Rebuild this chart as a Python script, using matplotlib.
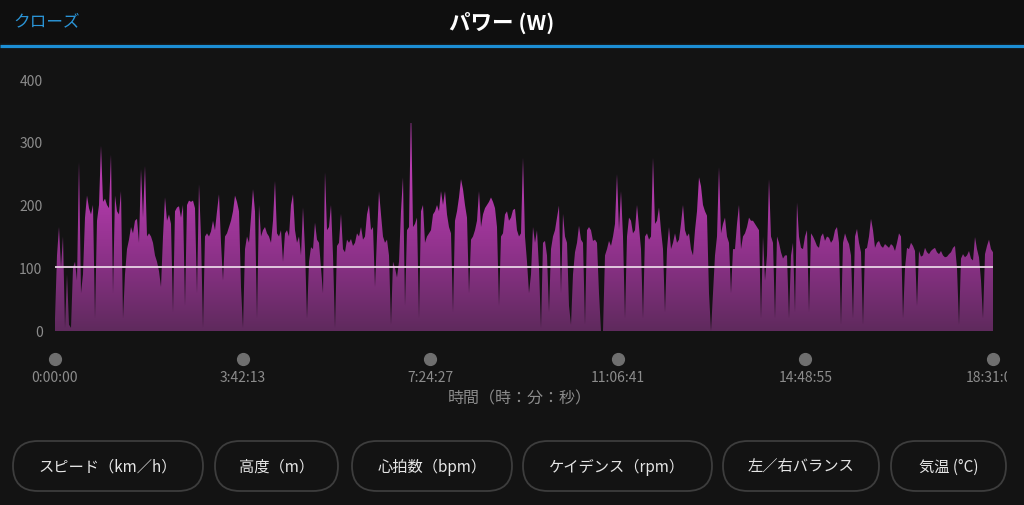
import numpy as np
import matplotlib.pyplot as plt
from matplotlib.colors import LinearSegmentedColormap
from matplotlib.patches import FancyBboxPatch, Rectangle
from matplotlib.transforms import Bbox

plt.rcParams['font.family'] = ['Noto Sans CJK JP', 'DejaVu Sans']

# --- data ---
title = 'パワー (W)'
close_label = 'クローズ'
x_label = '時間（時：分：秒）'
duration_s = 66669
tick_secs = [0, 13333, 26667, 40001, 53335, 66669]
tick_labels = ['0:00:00', '3:42:13', '7:24:27', '11:06:41', '14:48:55', '18:31:09']
y_ticks = [0, 100, 200, 300, 400]
avg_power = 101
buttons = ['スピード（km／h）', '高度（m）', '心拍数（bpm）',
           'ケイデンス（rpm）', '左／右バランス', '気温 (°C)']

# power (W), evenly spaced samples over the ride
power = [
    20, 120, 165, 100, 150, 5, 90, 10, 5, 100,
    110, 80, 268, 60, 90, 180, 215, 195, 185, 200,
    20, 175, 200, 294, 205, 210, 200, 195, 280, 60,
    215, 190, 185, 222, 20, 90, 130, 145, 165, 155,
    175, 178, 140, 257, 180, 262, 150, 155, 150, 140,
    120, 110, 95, 70, 150, 212, 175, 185, 170, 30,
    190, 196, 198, 180, 200, 40, 200, 207, 205, 207,
    195, 60, 233, 150, 5, 150, 155, 150, 158, 175,
    160, 190, 217, 140, 80, 150, 155, 165, 175, 190,
    215, 205, 190, 70, 5, 130, 150, 140, 180, 225,
    190, 20, 200, 150, 160, 165, 155, 150, 140, 175,
    238, 155, 150, 160, 110, 155, 160, 150,
    200, 217, 160, 140, 150, 120, 196, 130, 20, 110,
    133, 130, 172, 145, 140, 100, 60, 252, 160, 165,
    200, 120, 5, 135, 140, 186, 130, 125, 145, 140,
    146, 135, 140, 155, 150, 165, 145, 150, 185, 200,
    160, 165, 70, 150, 222, 185, 150, 140, 145, 120,
    10, 110, 100, 85, 110, 190, 244, 40, 160, 165,
    360, 165, 170, 180, 20, 190, 200, 140, 150, 155,
    160, 185, 190, 200, 190, 222, 200, 222, 185, 165,
    155, 30, 175, 190, 212, 241, 225, 200, 180, 60,
    145, 150, 160, 175, 222, 165, 185, 195, 200, 205,
    212, 205, 195, 165, 40, 150, 155, 185, 190, 175,
    180, 192, 194, 160, 150, 155, 275,
    150, 110, 60, 90, 165, 140, 160, 100, 5, 140,
    143, 120, 30, 130, 150, 160, 180, 199, 60, 186,
    150, 140, 40, 10, 90, 125, 140, 167, 145, 140,
    10, 160, 165, 160, 143, 145, 140, 60, 0, 0,
    120, 130, 143, 135, 150, 170, 249, 160, 222, 150,
    20, 150, 180, 175, 155, 160, 200, 165, 130, 20,
    150, 155, 145, 150, 275, 170, 175, 196, 160, 130,
    30, 130, 165, 130, 140, 155, 140, 145, 170, 200,
    160, 150, 155, 130, 120, 160, 190, 244, 230, 200,
    190, 183, 60, 0, 60, 120, 150, 260, 155, 170,
    180, 150, 140, 60, 130, 130, 170, 200, 130, 150,
    155, 165, 180, 175, 175, 170, 165,
    160, 20, 150, 80, 120, 241, 150, 140, 20, 150,
    140, 125, 115, 120, 120, 20, 120, 140, 30, 204,
    150, 132, 130, 150, 160, 30, 155, 150, 143, 135,
    132, 150, 155, 143, 150, 148, 140, 145, 160, 165,
    140, 10, 140, 155, 145, 138, 120, 20, 150, 162,
    140, 125, 10, 130, 132, 150, 178, 160, 132, 140,
    143, 135, 132, 138, 135, 132, 138, 135, 127, 140,
    155, 150, 20, 100, 132, 130, 140, 135, 127, 40,
    127, 118, 120, 132, 125, 122, 127, 130, 132, 125,
    122, 127, 120, 117, 118, 122, 125, 132, 135, 100,
    10, 115, 122, 117, 120, 127, 115, 112, 149, 130,
    117, 80, 20, 122, 135, 145, 130, 125,
]

W, H = 1024, 506
bg = '#131313'
fig = plt.figure(figsize=(W / 100, H / 100), dpi=100, facecolor=bg)

# overlay in pixel coordinates for header and buttons
ov = fig.add_axes([0, 0, 1, 1], zorder=0)
ov.set_xlim(0, W)
ov.set_ylim(0, H)
ov.axis('off')

def py(y):
    return H - y

ov.add_patch(Rectangle((0, py(44)), W, 44, color='#0f0f0f', lw=0))
ov.plot([0, W], [py(46.5), py(46.5)], color='#1c8ed4', lw=2.3, solid_capstyle='butt')
ov.text(W / 2 - 10, py(23), title, color='white', fontsize=15.5, fontweight='bold',
        ha='center', va='center')
ov.text(13, py(22), close_label, color='#2a94d6', fontsize=12, ha='left', va='center')

btn_x = [(13, 203), (215, 338), (352, 512), (523, 712), (723, 879), (891, 1006)]
for (x0, x1), label in zip(btn_x, buttons):
    ov.add_patch(FancyBboxPatch((x0, py(492)), x1 - x0, 50,
                                boxstyle='round,pad=0,rounding_size=25',
                                fc='none', ec='#3d3d3d', lw=1.3))
    ov.text((x0 + x1) / 2, py(467), label, color='#e6e6e6', fontsize=11,
            ha='center', va='center')

# main chart
ax = fig.add_axes([55 / W, (H - 332) / H, 938 / W, 252 / H], zorder=1)
ax.set_facecolor('none')
t = np.linspace(0, duration_s, len(power))

cmap = LinearSegmentedColormap.from_list('pw', ['#5f2a5d', '#8a3186', '#b13aaa', '#c040b8'])
grad = np.linspace(0, 1, 256).reshape(-1, 1)
im = ax.imshow(grad, extent=[0, duration_s, 0, 330], origin='lower', aspect='auto',
               cmap=cmap, zorder=2, interpolation='bilinear')
fill = ax.fill_between(t, power, 0, facecolor='none', edgecolor='none')
im.set_clip_path(fill.get_paths()[0], transform=ax.transData)

ax.hlines(avg_power, t[0], t[-1], color='#ead3e6', lw=1.3, zorder=3)

ax.set_xlim(0, duration_s)
ax.set_ylim(0, 400)
ax.set_xticks([])
ax.set_yticks(y_ticks)
ax.tick_params(axis='y', length=0, pad=9, labelcolor='#8c8c8c', labelsize=10)
for s in ax.spines.values():
    s.set_visible(False)

xt = ax.get_xaxis_transform()
ax.plot(tick_secs, [-0.111] * len(tick_secs), 'o', color='#6f6f6f', ms=8.5,
        transform=xt, clip_on=False)
clip = Bbox.from_extents(0, 0, 1007, H)
for s, lab in zip(tick_secs, tick_labels):
    txt = ax.text(s, -0.183, lab, color='#8c8c8c', fontsize=10, ha='center',
                  va='center', transform=xt, clip_on=True)
    txt.set_clip_box(clip)
fig.text(520 / W, (H - 399) / H, x_label, color='#8c8c8c', fontsize=11.5,
         ha='center', va='center')

fig.savefig('out.png', dpi=100, facecolor=bg)
